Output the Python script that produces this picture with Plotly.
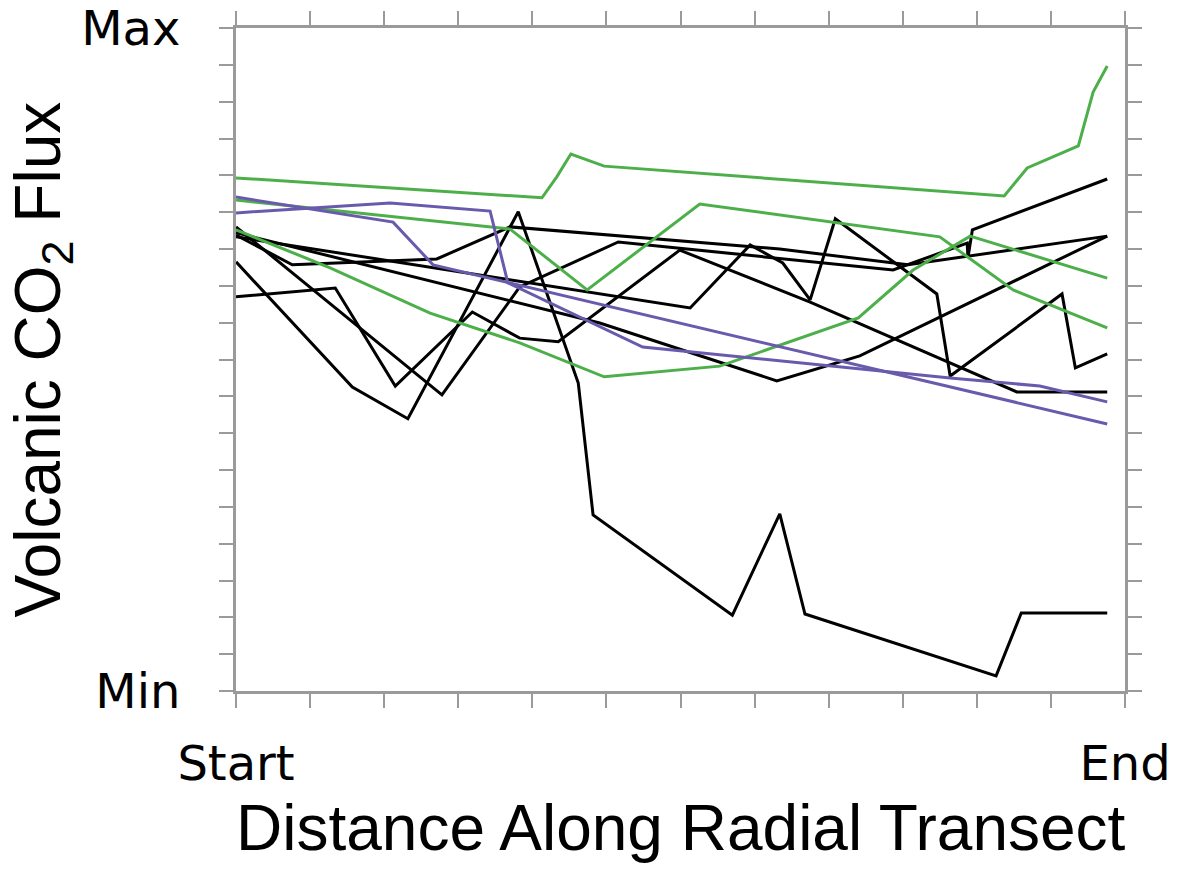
import plotly.graph_objects as go

# Distance along transect (0 = Start, 12 = End) and flux (0 = Min, 18 = Max)
green1_x = [0, 4.13, 4.33, 4.52, 4.97, 10.37, 10.68, 11.37, 11.57, 11.76]
green1_y = [13.93, 13.39, 13.96, 14.58, 14.25, 13.44, 14.20, 14.80, 16.26, 16.97]
green2_x = [0, 3.70, 4.74, 6.26, 9.50, 10.49, 11.76]
green2_y = [13.33, 12.54, 10.89, 13.22, 12.33, 10.89, 9.86]
green3_x = [0, 1.27, 2.62, 3.83, 4.97, 6.53, 8.40, 9.14, 9.91, 11.76]
green3_y = [12.52, 11.49, 10.26, 9.45, 8.53, 8.82, 10.13, 11.43, 12.35, 11.21]

purple1_x = [0, 2.12, 2.66, 11.76]
purple1_y = [13.41, 12.73, 11.57, 7.25]
purple2_x = [0, 2.08, 3.43, 3.67, 5.49, 9.64, 10.85, 11.76]
purple2_y = [12.98, 13.25, 13.03, 11.08, 9.34, 8.50, 8.28, 7.85]

black1_x = [0, 0.76, 2.71, 3.70, 7.34, 9.07, 11.76]
black1_y = [12.38, 11.57, 11.73, 12.60, 12.00, 11.57, 12.35]
black2_x = [0, 4.91, 7.30, 8.42, 11.76]
black2_y = [12.44, 9.99, 8.42, 9.10, 12.35]
black3_x = [0, 6.13, 6.94, 7.38, 7.75, 8.09, 9.46, 9.64, 11.15, 11.33, 11.76]
black3_y = [12.33, 10.40, 12.11, 11.62, 10.62, 12.82, 10.78, 8.55, 10.78, 8.77, 9.15]
black4_x = [0, 1.34, 2.15, 3.19, 3.83, 4.35, 5.99, 7.75, 10.54, 11.76]
black4_y = [10.70, 10.94, 8.28, 10.29, 9.58, 9.48, 11.97, 10.56, 8.12, 8.12]
black5_x = [0, 1.57, 2.32, 3.81, 4.62, 4.82, 6.70, 7.34, 7.68, 10.26, 10.60, 11.76]
black5_y = [11.65, 8.25, 7.39, 13.01, 8.36, 4.78, 2.06, 4.81, 2.09, 0.41, 2.12, 2.12]
black6_x = [0, 2.78, 3.83, 5.16, 8.87, 9.87, 9.88, 9.94, 11.76]
black6_y = [12.60, 8.04, 10.97, 12.19, 11.43, 12.16, 11.76, 12.52, 13.90]

x_tick_vals = list(range(0, 13))
x_tick_text = ["Start"] + [""] * 11 + ["End"]
y_tick_vals = list(range(0, 19))
y_tick_text = ["Min"] + [""] * 17 + ["Max"]

x_title = "Distance Along Radial Transect"
y_title = "Volcanic CO<sub>2</sub> Flux"

BLACK = "#000000"
GREEN = "#4daf4a"
PURPLE = "#6a5aad"

series = [
    (black1_x, black1_y, BLACK), (black2_x, black2_y, BLACK),
    (black3_x, black3_y, BLACK), (black4_x, black4_y, BLACK),
    (black5_x, black5_y, BLACK), (black6_x, black6_y, BLACK),
    (green1_x, green1_y, GREEN), (green2_x, green2_y, GREEN),
    (green3_x, green3_y, GREEN),
    (purple1_x, purple1_y, PURPLE), (purple2_x, purple2_y, PURPLE),
]

fig = go.Figure()
for xs, ys, c in series:
    fig.add_trace(go.Scatter(x=xs, y=ys, mode="lines",
                             line=dict(color=c, width=3),
                             showlegend=False, hoverinfo="skip"))

axis_common = dict(
    showgrid=False, zeroline=False, automargin=False,
    showline=True, linecolor="#9a9a9a", linewidth=3, mirror="ticks",
    ticks="outside", ticklen=14, tickwidth=2, tickcolor="#9a9a9a",
    ticklabeloverflow="allow",
    tickfont=dict(family="DejaVu Sans", size=48, color="black"),
)

title_font = dict(family="Liberation Sans", size=64, color="black")

fig.update_layout(
    width=1177, height=869,
    margin=dict(l=236, r=52, t=28, b=178),
    paper_bgcolor="white", plot_bgcolor="white",
    xaxis=dict(range=[0, 12], tickmode="array", tickvals=x_tick_vals,
               ticktext=x_tick_text, ticklabelstandoff=14, **axis_common),
    yaxis=dict(range=[0, 18], tickmode="array", tickvals=y_tick_vals,
               ticktext=y_tick_text, ticklabelstandoff=29, **axis_common),
    annotations=[
        dict(text=x_title, xref="paper", yref="paper", x=0.5, y=-0.2066,
             xanchor="center", yanchor="middle", showarrow=False, font=title_font),
        dict(text=y_title, xref="paper", yref="paper", x=-0.2193, y=0.5,
             xanchor="center", yanchor="middle", showarrow=False, textangle=-90,
             font=title_font),
    ],
)

fig.write_html("out.html",
               config={"displayModeBar": False},
               post_script="document.body.style.margin='0';document.body.style.overflow='hidden';")
